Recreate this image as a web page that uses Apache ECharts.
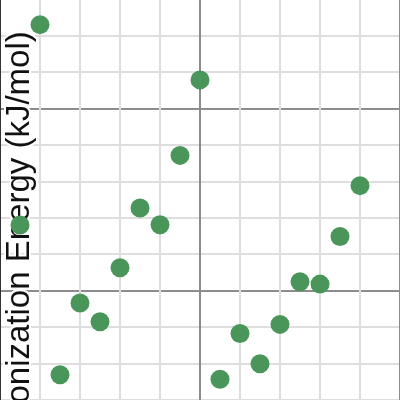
<!DOCTYPE html>
<html>
<head>
<meta charset="utf-8">
<script src="https://cdn.jsdelivr.net/npm/echarts@6/dist/echarts.min.js"></script>
<style>
  html, body { margin: 0; padding: 0; background: #fff; }
  #chart { width: 400px; height: 400px; }
</style>
</head>
<body>
<div id="chart"></div>
<script>
// atomic number, first ionization energy
const atomicNumbers = [1, 2, 3, 4, 5, 6, 7, 8, 9, 10, 11, 12, 13, 14, 15, 16, 17, 18];
const energies = [13.6, 24.59, 5.39, 9.32, 8.3, 11.26, 14.53, 13.62, 17.42, 21.56,
                  5.14, 7.65, 5.99, 8.15, 10.49, 10.36, 12.97, 15.76];
const yLabel = "Ionization Energy (kJ/mol)";

const chart = echarts.init(document.getElementById("chart"));

const points = atomicNumbers.map((z, i) => [z, energies[i]]);

const lightGrid = "#dedede";
const darkGrid = "#8c8c8c";

chart.setOption({
  animation: false,
  // plot area is bigger than the view, like a cropped figure
  grid: { left: 0, right: 0, top: -74, bottom: -73, outerBoundsMode: "none" },
  xAxis: {
    type: "value",
    min: 0,
    max: 20,
    interval: 10,
    axisLabel: { show: false },
    axisTick: { show: false },
    axisLine: { show: false },
    splitLine: { show: true, lineStyle: { color: darkGrid, width: 2 } },
    minorTick: { show: false, splitNumber: 5 },
    minorSplitLine: { show: true, lineStyle: { color: lightGrid, width: 2 } },
  },
  yAxis: {
    type: "value",
    min: 0,
    max: 30,
    interval: 10,
    axisLabel: { show: false },
    axisTick: { show: false },
    axisLine: { show: true, onZero: false, lineStyle: { color: "#333", width: 2 } },
    splitLine: { show: true, lineStyle: { color: darkGrid, width: 2 } },
    minorTick: { show: false, splitNumber: 5 },
    minorSplitLine: { show: true, lineStyle: { color: lightGrid, width: 2 } },
  },
  graphic: [
    {
      type: "text",
      z: 1,
      x: 20,
      y: 222,
      rotation: Math.PI / 2,
      style: {
        text: yLabel,
        font: "33px 'Liberation Sans', Arial, sans-serif",
        fill: "#111",
        stroke: "#fff",
        lineWidth: 4,
        align: "center",
        verticalAlign: "middle",
      },
    },
  ],
  series: [
    {
      type: "scatter",
      data: points,
      symbolSize: 19,
      z: 5,
      itemStyle: { color: "#4a965a", opacity: 1 },
    },
  ],
});
</script>
</body>
</html>
